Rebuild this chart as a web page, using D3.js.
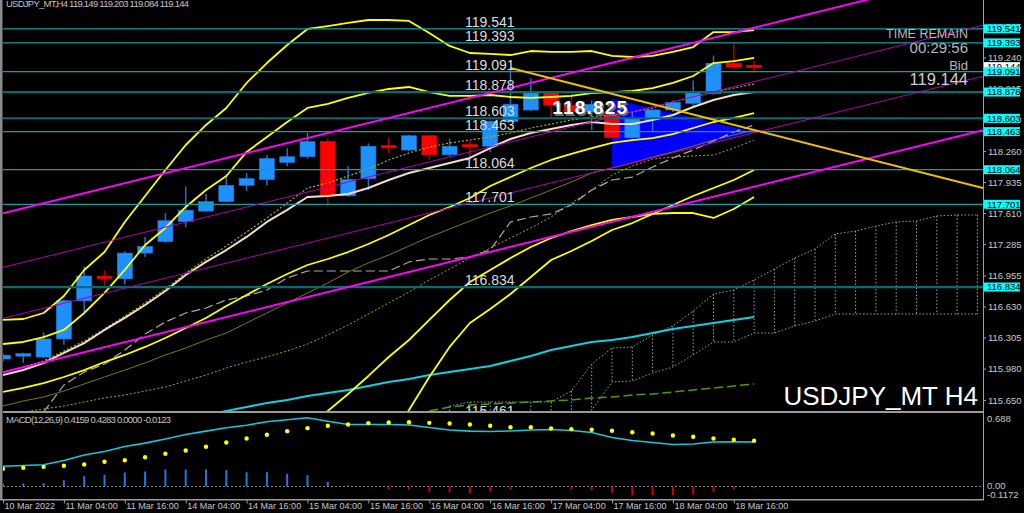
<!DOCTYPE html>
<html><head><meta charset="utf-8">
<script src="https://cdn.jsdelivr.net/npm/d3@7"></script>
<style>body{margin:0;background:#000;overflow:hidden}svg{display:block}</style>
</head><body>
<svg id="c" width="1024" height="513"></svg>
<script>
// ---------------- DATA ----------------
const tickBars   = [0,3,6,9,12,15,18,21,24,27,30,33,36];
const tickLabels = ["10 Mar 2022","11 Mar 04:00","11 Mar 16:00","14 Mar 04:00","14 Mar 16:00","15 Mar 04:00","15 Mar 16:00","16 Mar 04:00","16 Mar 16:00","17 Mar 04:00","17 Mar 16:00","18 Mar 04:00","18 Mar 16:00"];
const priceTicks = [119.565,119.240,118.915,118.590,118.260,117.935,117.610,117.285,116.955,116.630,116.305,115.980,115.650];

const opens  = [116.08,116.12,116.10,116.29,116.69,116.94,116.92,117.19,117.31,117.52,117.63,117.73,117.90,117.96,118.14,118.20,118.36,117.79,117.97,118.31,118.27,118.42,118.22,118.32,118.31,118.57,118.69,118.88,118.74,118.67,118.64,118.40,118.59,118.69,118.76,118.86,119.18,119.149];
const highs  = [116.14,116.146,116.36,116.70,117.05,117.01,117.21,117.36,117.61,117.89,117.81,118.01,118.03,118.22,118.29,118.45,118.39,118.10,118.34,118.40,118.43,118.43,118.39,118.37,118.58,119.13,119.02,118.89,118.87,118.79,118.74,118.67,118.69,118.79,119.00,119.26,119.39,119.203];
const lows   = [116.05,116.041,116.09,116.23,116.57,116.84,116.86,117.15,117.30,117.46,117.62,117.72,117.84,117.90,118.10,118.18,117.70,117.78,117.85,118.24,118.26,118.17,118.20,118.19,118.25,118.56,118.68,118.60,118.62,118.48,118.39,118.39,118.46,118.67,118.71,118.85,119.12,119.084];
const closes = [116.12,116.125,116.29,116.69,116.95,116.93,117.19,117.26,117.53,117.64,117.73,117.90,117.97,118.18,118.20,118.36,117.79,117.96,118.31,118.30,118.42,118.22,118.31,118.31,118.57,118.75,118.88,118.74,118.67,118.75,118.40,118.60,118.69,118.77,118.87,119.18,119.14,119.144];

// indicator series (one value per bar, null = not drawn)
const bandUpper3 = [116.489,116.499,116.562,116.740,117.013,117.201,117.516,117.788,118.061,118.323,118.533,118.711,118.973,119.182,119.371,119.539,119.570,119.602,119.633,119.633,119.623,119.497,119.361,119.287,119.277,119.266,119.308,119.298,119.298,119.308,119.256,119.245,119.256,119.298,119.350,119.507,119.507,119.528];
const bandUpper2 = [116.237,116.258,116.310,116.384,116.562,116.772,117.013,117.275,117.453,117.673,117.851,117.998,118.250,118.407,118.564,118.711,118.753,118.816,118.868,118.910,118.931,118.878,118.837,118.837,118.847,118.826,118.816,118.826,118.837,118.868,118.878,118.889,118.920,118.973,119.046,119.182,119.203,119.235];
const maMiddle   = [115.912,115.964,116.038,116.143,116.247,116.384,116.510,116.646,116.793,116.960,117.097,117.222,117.359,117.516,117.642,117.778,117.788,117.809,117.872,117.956,118.029,118.082,118.134,118.187,118.291,118.386,118.449,118.491,118.533,118.564,118.543,118.543,118.585,118.637,118.721,118.795,118.847,118.878];
const maDotted   = [115.943,115.996,116.059,116.164,116.268,116.394,116.530,116.667,116.814,116.981,117.128,117.264,117.411,117.558,117.715,117.872,117.925,117.998,118.071,118.166,118.239,118.302,118.344,118.375,118.407,118.449,118.501,118.543,118.585,118.616,118.637,118.669,118.711,118.774,118.826,118.878,118.920,118.962];
const bandLower1 = [115.734,115.776,115.828,115.891,115.964,116.048,116.122,116.206,116.300,116.405,116.510,116.635,116.751,116.866,116.971,117.065,117.128,117.201,117.285,117.380,117.484,117.589,117.673,117.767,117.893,117.987,118.082,118.166,118.229,118.291,118.344,118.375,118.396,118.438,118.501,118.564,118.606,118.658];
const oliveLine  = [115.587,115.640,115.681,115.744,115.818,115.891,115.964,116.038,116.122,116.195,116.279,116.352,116.457,116.562,116.667,116.772,116.876,116.992,117.086,117.170,117.264,117.359,117.442,117.526,117.610,117.684,117.767,117.851,117.935,118.029,118.082,118.134,118.197,118.250,118.312,118.375,118.428,118.480];
const oliveDotted= [null,115.524,115.556,115.587,115.629,115.671,115.702,115.744,115.786,115.849,115.912,115.985,116.048,116.101,116.164,116.237,116.331,116.436,116.551,116.667,116.782,116.908,117.023,117.138,117.243,117.348,117.453,117.568,117.715,117.851,118.008,118.103,118.176,118.197,118.208,118.218,118.291,118.375];
const kijunDashed= [null,null,115.524,115.807,115.943,116.027,116.174,116.342,116.468,116.562,116.614,116.698,116.740,116.803,116.929,117.002,117.002,117.002,117.002,117.002,117.097,117.128,117.128,117.149,117.222,117.516,117.568,117.600,117.694,117.851,117.956,117.987,118.092,118.187,118.271,118.365,118.459,118.533];
const bandLower2 = [null,null,null,null,null,null,null,null,null,null,null,null,null,null,null,115.336,115.535,115.713,115.902,116.101,116.279,116.489,116.698,116.887,117.013,117.138,117.254,117.348,117.421,117.484,117.537,117.568,117.600,117.610,117.610,117.558,117.652,117.778];
const bandLower3 = [null,null,null,null,null,null,null,null,null,null,null,null,null,null,null,null,null,null,null,115.231,115.545,115.891,116.206,116.457,116.604,116.761,116.939,117.117,117.212,117.317,117.432,117.505,117.600,117.694,117.788,117.872,117.956,118.061];
const maLong     = [null,null,null,null,null,null,null,null,null,115.461,115.493,115.535,115.577,115.619,115.650,115.692,115.723,115.755,115.797,115.839,115.870,115.912,115.943,115.975,116.006,116.059,116.111,116.174,116.216,116.258,116.279,116.310,116.352,116.394,116.426,116.457,116.489,116.520];
const greenDashed= [null,null,null,null,null,null,null,null,null,null,null,null,null,null,null,null,null,null,null,null,null,115.535,115.577,115.598,115.608,115.619,115.629,115.640,115.650,115.671,115.681,115.702,115.713,115.734,115.755,115.776,115.797,115.818];
// Ichimoku cloud spans, bars 22..48 (projected forward)
const cloudStart = 22;
const spanA = [115.587,115.629,115.629,115.629,115.629,115.629,115.744,116.027,116.195,116.206,116.331,116.426,116.583,116.761,116.803,116.908,117.023,117.138,117.233,117.390,117.421,117.474,117.516,117.526,117.579,117.589,117.589];
const spanB = [115.440,115.440,115.440,115.440,115.440,115.440,115.440,115.545,115.839,115.849,115.933,115.996,116.122,116.258,116.258,116.352,116.352,116.426,116.478,116.551,116.551,116.551,116.551,116.551,116.551,116.551,116.551];

// MACD(12,26,9)
const macdMain   = [0.190,0.197,0.203,0.243,0.295,0.328,0.375,0.406,0.445,0.487,0.518,0.550,0.574,0.606,0.625,0.643,0.611,0.581,0.581,0.581,0.576,0.552,0.529,0.518,0.515,0.520,0.529,0.534,0.524,0.506,0.459,0.431,0.412,0.393,0.398,0.417,0.419,0.4159];
const macdSignal = [0.166,0.175,0.184,0.194,0.206,0.231,0.246,0.274,0.306,0.337,0.372,0.412,0.449,0.484,0.518,0.546,0.568,0.581,0.593,0.599,0.602,0.596,0.590,0.581,0.568,0.555,0.555,0.543,0.537,0.531,0.522,0.508,0.496,0.478,0.465,0.449,0.437,0.4283];
const macdHist   = [0.028,0.028,0.031,0.059,0.096,0.110,0.131,0.140,0.159,0.159,0.159,0.153,0.134,0.134,0.119,0.106,0.044,0.009,-0.003,-0.028,-0.028,-0.050,-0.053,-0.066,-0.044,-0.028,-0.012,-0.012,-0.028,-0.035,-0.059,-0.081,-0.081,-0.081,-0.075,-0.050,-0.028,-0.0123];

// horizontal levels
const levelPrices = [119.541,119.393,119.091,118.878,118.603,118.463,118.064,117.701,116.834,115.461];
const levelThick  = [false,false,false,true,true,false,false,false,true,false];
// trend lines: [bar, price] pairs
const channelThick = [[[0,117.607],[40,119.710]],[[0,115.940],[40,118.043]]];
const channelThin  = [[[0,117.041],[40,119.144]],[[0,116.506],[40,118.609]]];
const goldRay      = [[25,119.130],[48,117.886]];
const triangle     = [[30,118.805],[30,118.082],[37,118.459]];
const bigLabel     = {bar:28.9, price:118.825, text:"118.825"};
const bidPrice = 119.144;

// ---------------- SCALES ----------------
const svg = d3.select('#c');
const PL = 3, PR = 983, MAIN_B = 411, MT = 413, MB = 499;
const x = d3.scaleLinear().domain([0,37]).range([3, 3+37*20.3]);
const y = d3.scaleLinear().domain([115.65,119.24]).range([400,57.5]);
const ym = d3.scaleLinear().domain([-0.1172,0.688]).range([MB,MT]);
const FONT = "'Liberation Sans', Arial, sans-serif";

svg.append('rect').attr('width',1024).attr('height',513).attr('fill','#000');
const defs = svg.append('defs');
defs.append('clipPath').attr('id','cm').append('rect').attr('x',PL).attr('y',0).attr('width',PR-PL).attr('height',MAIN_B);
defs.append('clipPath').attr('id','cd').append('rect').attr('x',PL).attr('y',MT).attr('width',PR-PL).attr('height',MB-MT);

const main = svg.append('g').attr('clip-path','url(#cm)');

// triangle (background object)
main.append('path').attr('d', d3.line().x(d=>x(d[0])).y(d=>y(d[1]))(triangle)+'Z').attr('fill','#0000ff');

// Ichimoku cloud
const cloudIdx = d3.range(spanA.length).map(i=>i+cloudStart);
const cg = main.append('g').attr('stroke','#a0a0a0').attr('stroke-width',1).attr('stroke-dasharray','1.5,2').attr('fill','none');
cloudIdx.forEach((k,i)=>{
  cg.append('line').attr('x1',x(k)).attr('x2',x(k)).attr('y1',y(spanA[i])).attr('y2',y(spanB[i]));
});
cg.append('path').attr('d', d3.line().x((d,i)=>x(cloudIdx[i])).y(d=>y(d))(spanA));
cg.append('path').attr('d', d3.line().x((d,i)=>x(cloudIdx[i])).y(d=>y(d))(spanB));

// candles
const cw = 15;
const candles = main.append('g');
opens.forEach((o,i)=>{
  const c = closes[i], up = c >= o;
  const wick = up ? '#2070c8' : '#b00000';
  const body = up ? '#1e90ff' : '#ff0000';
  candles.append('line').attr('x1',x(i)).attr('x2',x(i)).attr('y1',y(highs[i])).attr('y2',y(lows[i]))
    .attr('stroke',wick).attr('stroke-width',1.5);
  const raw = Math.abs(y(o)-y(c));
  const h = Math.max(2.5, raw);
  const top = y(Math.max(o,c)) - (h-raw)/2;
  candles.append('rect').attr('x',x(i)-cw/2).attr('y',top)
    .attr('width',cw).attr('height',h).attr('fill',body).attr('stroke', up ? '#1a78e0' : '#e00000').attr('stroke-width',0.6);
});

// indicator lines
function series(arr, stroke, width, dash){
  const ln = d3.line().defined(d=>d!=null).x((d,i)=>x(i)).y(d=>y(d));
  const p = main.append('path').datum(arr).attr('d',ln).attr('fill','none').attr('stroke',stroke).attr('stroke-width',width).attr('stroke-linejoin','round');
  if(dash) p.attr('stroke-dasharray',dash);
}
series(oliveDotted,'#a8a800',1,'2,2');
series(oliveLine,'#7c7c00',1);
series(kijunDashed,'#b4a898',1.2,'9,4');
series(greenDashed,'#4c9c00',1.5,'9,4');
series(maLong,'#10d0e0',2);
series(maDotted,'#b0b000',1.2,'2,2');
series(maMiddle,'#f2dcc8',2);
series(bandUpper3,'#ffff00',1.8);
series(bandUpper2,'#ffff00',1.8);
series(bandLower1,'#ffff00',1.8);
series(bandLower2,'#ffff00',1.8);
series(bandLower3,'#ffff00',1.8);

// level lines
const lv = main.append('g');
levelPrices.forEach((p,i)=>{
  lv.append('line').attr('x1',PL).attr('x2',PR).attr('y1',y(p)).attr('y2',y(p))
    .attr('stroke', levelThick[i] ? '#006e6e' : '#0fa0a0').attr('stroke-width', levelThick[i] ? 2.2 : 1.2);
});

// trend lines extended across plot
const kL = x.invert(PL), kR = x.invert(PR);
function extLine(seg, kFrom){
  const [[k0,p0],[k1,p1]] = seg, s = (p1-p0)/(k1-k0);
  const a = kFrom==null ? kL : kFrom;
  return [[a, p0 + s*(a-k0)],[kR, p0 + s*(kR-k0)]];
}
const tl = d3.line().x(d=>x(d[0])).y(d=>y(d[1]));
channelThin.forEach(s=> main.append('path').attr('d',tl(extLine(s))).attr('stroke','#b000b0').attr('stroke-width',1).attr('fill','none'));
channelThick.forEach(s=> main.append('path').attr('d',tl(extLine(s))).attr('stroke','#ff00ff').attr('stroke-width',2).attr('fill','none'));
main.append('path').attr('d',tl(extLine(goldRay, goldRay[0][0]))).attr('stroke','#f0c000').attr('stroke-width',2).attr('fill','none');

// level text labels
const lt = main.append('g').attr('font-family',FONT).attr('font-size',14).attr('fill','#dcdcdc');
levelPrices.forEach(p=>{
  lt.append('text').attr('x',465).attr('y',y(p)-2).text(p.toFixed(3));
});

// big label
const bl = main.append('g').attr('font-family',FONT).attr('font-size',19).attr('font-weight','bold');
bl.append('text').attr('x',x(bigLabel.bar)+1.5).attr('y',y(bigLabel.price)+18.5).attr('fill','#6a6a6a').attr('text-anchor','middle').attr('textLength',75).text(bigLabel.text);
bl.append('text').attr('x',x(bigLabel.bar)).attr('y',y(bigLabel.price)+17).attr('fill','#ffffff').attr('text-anchor','middle').attr('textLength',75).text(bigLabel.text);

// ---------------- MACD ----------------
const md = svg.append('g').attr('clip-path','url(#cd)');
md.append('line').attr('x1',PL).attr('x2',PR).attr('y1',ym(0)).attr('y2',ym(0)).attr('stroke','#8c8c8c').attr('stroke-dasharray','2,2');
macdHist.forEach((v,i)=>{
  md.append('rect').attr('x',x(i)-1).attr('width',2)
    .attr('y', v>=0 ? ym(v) : ym(0)).attr('height', Math.max(0.8, Math.abs(ym(v)-ym(0))))
    .attr('fill', v>=0 ? '#1f78e0' : '#d00000');
});
md.append('path').datum(macdMain).attr('d', d3.line().x((d,i)=>x(i)).y(d=>ym(d))).attr('fill','none').attr('stroke','#10c8d8').attr('stroke-width',1.6);
md.selectAll('circle').data(macdSignal).join('circle').attr('cx',(d,i)=>x(i)).attr('cy',d=>ym(d)).attr('r',2.2).attr('fill','#ffff00');

// ---------------- FRAME ----------------
svg.append('rect').attr('x',0).attr('y',0).attr('width',2.5).attr('height',MB+1).attr('fill','#8a8a8a');
svg.append('rect').attr('x',PL).attr('y',MAIN_B).attr('width',PR-PL).attr('height',2).attr('fill','#9a9a9a');
svg.append('rect').attr('x',0).attr('y',MB).attr('width',PR+1).attr('height',1.5).attr('fill','#9a9a9a');

// price axis
const pa = svg.append('g').attr('transform',`translate(${PR},0)`)
  .call(d3.axisRight(y).tickValues(priceTicks).tickSize(3).tickPadding(2).tickFormat(d3.format('.3f')));
pa.select('.domain').attr('stroke','#a0a0a0').attr('d',`M0.5,0V${MB+1}`);
pa.selectAll('line').attr('stroke','#a0a0a0');
pa.selectAll('text').attr('fill','#c8c8c8').attr('font-family',FONT).attr('font-size',9.5);

// bid box then level boxes
function boxLabel(p, bg){
  const g = svg.append('g').attr('transform',`translate(${PR+1},${y(p)})`);
  g.append('rect').attr('x',0).attr('y',-4.5).attr('width',36).attr('height',9).attr('fill',bg);
  g.append('text').attr('x',3).attr('y',3.4).attr('font-family',FONT).attr('font-size',9.5).attr('fill','#000').text(p.toFixed(3));
}
boxLabel(bidPrice,'#ffffff');
levelPrices.forEach(p=>{ if(y(p) < MAIN_B) boxLabel(p,'#00ffff'); });

// MACD axis texts
const ma = svg.append('g').attr('font-family',FONT).attr('font-size',9.5).attr('fill','#c8c8c8');
ma.append('text').attr('x',PR+4).attr('y',ym(0.688)+9).text('0.688');
ma.append('text').attr('x',PR+4).attr('y',ym(0)+3).text('0.00');
ma.append('text').attr('x',PR+4).attr('y',ym(-0.1172)-1).text('-0.1172');

// time axis
const ta = svg.append('g').attr('transform',`translate(0,${MB+0.5})`)
  .call(d3.axisBottom(x).tickValues(tickBars).tickSize(4).tickFormat((d,i)=>tickLabels[i]));
ta.select('.domain').remove();
ta.selectAll('line').attr('stroke','#a0a0a0');
ta.selectAll('text').attr('fill','#c8c8c8').attr('font-family',FONT).attr('font-size',9)
  .attr('text-anchor','start').attr('dx',1).attr('dy',0).attr('y',9.5);

// header & info texts
svg.append('text').attr('x',6).attr('y',7).attr('font-family',FONT).attr('font-size',9.5).attr('fill','#c0c0c0')
  .attr('textLength',183).text('USDJPY_MT,H4  119.149 119.203 119.084 119.144');
svg.append('text').attr('x',6).attr('y',422.5).attr('font-family',FONT).attr('font-size',9.5).attr('fill','#c0c0c0')
  .attr('textLength',165).text('MACD(12,26,9) 0.4159 0.4283 0.0000 -0.0123');

const info = svg.append('g').attr('font-family',FONT).attr('fill','#b8b8b8').attr('text-anchor','end');
info.append('text').attr('x',968).attr('y',38).attr('font-size',12.5).text('TIME REMAIN');
info.append('text').attr('x',968).attr('y',53).attr('font-size',15).text('00:29:56');
info.append('text').attr('x',968).attr('y',70).attr('font-size',13).text('Bid');
info.append('text').attr('x',968).attr('y',85).attr('font-size',16.5).attr('fill','#d0d0d0').text(bidPrice.toFixed(3));

svg.append('text').attr('x',978).attr('y',405).attr('text-anchor','end').attr('font-family',FONT).attr('font-size',26).attr('fill','#ffffff').text('USDJPY_MT H4');
</script>
</body></html>
